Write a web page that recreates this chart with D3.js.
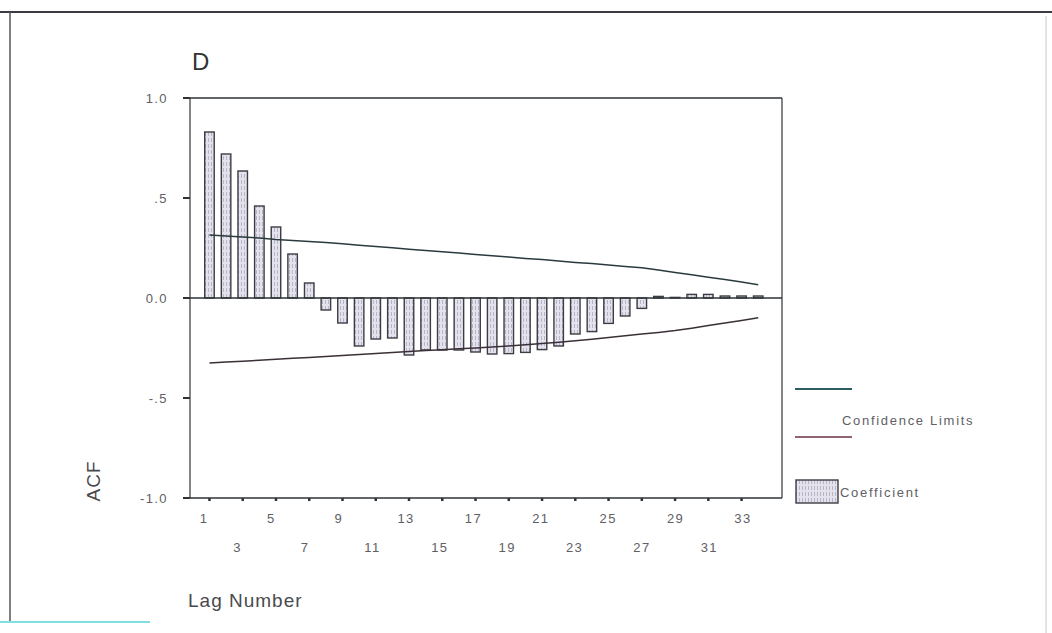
<!DOCTYPE html>
<html>
<head>
<meta charset="utf-8">
<script src="https://cdn.jsdelivr.net/npm/d3@7"></script>
<style>
  html, body { margin: 0; padding: 0; background: #fff; }
  svg { display: block; font-family: "Liberation Sans", Arial, sans-serif; }
</style>
</head>
<body>
<svg id="chart" width="1052" height="633"></svg>
<script>
// Autocorrelation function, lags 1..34
const lags = [1, 2, 3, 4, 5, 6, 7, 8, 9, 10, 11, 12, 13, 14, 15, 16, 17,
              18, 19, 20, 21, 22, 23, 24, 25, 26, 27, 28, 29, 30, 31, 32, 33, 34];
const acf = [0.83, 0.72, 0.635, 0.46, 0.355, 0.22, 0.075, -0.06, -0.125, -0.24,
             -0.205, -0.2, -0.285, -0.26, -0.26, -0.26, -0.27, -0.28, -0.278, -0.272,
             -0.258, -0.24, -0.18, -0.168, -0.127, -0.09, -0.052, 0.008, 0.003, 0.018,
             0.018, 0.01, 0.01, 0.01];
const upperLimit = [0.315, 0.31, 0.305, 0.30, 0.293, 0.288, 0.283, 0.277, 0.271, 0.264,
                    0.258, 0.251, 0.244, 0.238, 0.231, 0.225, 0.218, 0.211, 0.205, 0.198,
                    0.192, 0.185, 0.178, 0.172, 0.165, 0.158, 0.151, 0.140, 0.128, 0.116,
                    0.104, 0.092, 0.080, 0.066];
const lowerLimit = [-0.325, -0.32, -0.316, -0.311, -0.306, -0.301, -0.297, -0.292, -0.287, -0.282,
                    -0.278, -0.273, -0.268, -0.263, -0.259, -0.254, -0.25, -0.245, -0.24, -0.234,
                    -0.228, -0.221, -0.214, -0.206, -0.197, -0.189, -0.18, -0.172, -0.163, -0.151,
                    -0.138, -0.125, -0.112, -0.099];

const yTicks = [1, 0.5, 0, -0.5, -1];
const yTickLabels = ["1.0", ".5", "0.0", "-.5", "-1.0"];
const xLabelsRow1 = [1, 5, 9, 13, 17, 21, 25, 29, 33];
const xLabelsRow2 = [3, 7, 11, 15, 19, 23, 27, 31];
const xTickLags = [1, 3, 5, 7, 9, 11, 13, 15, 17, 19, 21, 23, 25, 27, 29, 31, 33];

const svg = d3.select("#chart");
const ink = "#2f3336";
const textInk = "#606064";

const x = d3.scaleLinear().domain([-0.17, 35.43]).range([190, 782]);
const xLabel = d3.scaleLinear().domain([1, 33]).range([204, 743]);
const y = d3.scaleLinear().domain([-1, 1]).range([498, 98]);

// bar fill texture
const defs = svg.append("defs");
const pat = defs.append("pattern").attr("id", "stripes")
  .attr("patternUnits", "userSpaceOnUse").attr("width", 3).attr("height", 6);
pat.append("rect").attr("width", 3).attr("height", 6).attr("fill", "#e4e2ec");
pat.append("rect").attr("x", 1).attr("width", 1).attr("height", 4).attr("fill", "#b8b6c6");

// page frame
svg.append("line").attr("x1", 0).attr("x2", 1052).attr("y1", 12).attr("y2", 12)
  .attr("stroke", "#3a3a40").attr("stroke-width", 2);
svg.append("line").attr("x1", 10).attr("x2", 10).attr("y1", 12).attr("y2", 622)
  .attr("stroke", "#55555a").attr("stroke-width", 1.5);
svg.append("line").attr("x1", 1046).attr("x2", 1046).attr("y1", 16).attr("y2", 633)
  .attr("stroke", "#c8c8cc").attr("stroke-width", 1);
svg.append("line").attr("x1", 0).attr("x2", 150).attr("y1", 622).attr("y2", 622)
  .attr("stroke", "#7fe0e4").attr("stroke-width", 2);

// panel letter
svg.append("text").attr("x", 192).attr("y", 70).attr("font-size", 24)
  .attr("fill", "#333").text("D");

// plot frame
svg.append("line").attr("x1", 183).attr("x2", 782).attr("y1", y(1)).attr("y2", y(1))
  .attr("stroke", ink).attr("stroke-width", 1.5);
svg.append("line").attr("x1", 782).attr("x2", 782).attr("y1", y(1)).attr("y2", y(-1))
  .attr("stroke", ink).attr("stroke-width", 1.2);
svg.append("line").attr("x1", 183).attr("x2", 782).attr("y1", y(-1)).attr("y2", y(-1))
  .attr("stroke", ink).attr("stroke-width", 1.5);
svg.append("line").attr("x1", 190).attr("x2", 190).attr("y1", y(1)).attr("y2", y(-1))
  .attr("stroke", ink).attr("stroke-width", 1.2);

// y ticks and labels
svg.selectAll(".ytick").data(yTicks).join("line")
  .attr("x1", 183).attr("x2", 190).attr("y1", d => y(d)).attr("y2", d => y(d))
  .attr("stroke", ink).attr("stroke-width", 2);
svg.selectAll(".ylab").data(yTicks).join("text")
  .attr("x", 168).attr("y", d => y(d) + 5).attr("text-anchor", "end")
  .attr("font-size", 13).attr("letter-spacing", 1.4).attr("fill", textInk)
  .text((d, i) => yTickLabels[i]);

// bars
const bw = 9.5;
svg.selectAll(".bar").data(lags).join("rect")
  .attr("x", d => x(d) - bw / 2)
  .attr("y", (d, i) => Math.min(y(acf[i]), y(0)))
  .attr("width", bw)
  .attr("height", (d, i) => Math.abs(y(acf[i]) - y(0)))
  .attr("fill", "url(#stripes)").attr("stroke", "#3c3c44").attr("stroke-width", 1.4);

// zero line
svg.append("line").attr("x1", 183).attr("x2", 782).attr("y1", y(0)).attr("y2", y(0))
  .attr("stroke", ink).attr("stroke-width", 1.5);

// confidence limits
const line = d3.line().x((d, i) => x(lags[i])).y(d => y(d));
svg.append("path").attr("d", line(upperLimit)).attr("fill", "none")
  .attr("stroke", "#2a3a3e").attr("stroke-width", 1.5);
svg.append("path").attr("d", line(lowerLimit)).attr("fill", "none")
  .attr("stroke", "#3a3038").attr("stroke-width", 1.5);

// x ticks and labels
svg.selectAll(".xtick").data(xTickLags).join("line")
  .attr("x1", d => x(d)).attr("x2", d => x(d)).attr("y1", y(-1)).attr("y2", y(-1) + 3)
  .attr("stroke", ink).attr("stroke-width", 2.5);
svg.selectAll(".xlab1").data(xLabelsRow1).join("text")
  .attr("x", d => xLabel(d)).attr("y", 523).attr("text-anchor", "middle")
  .attr("font-size", 13).attr("letter-spacing", 1.4).attr("fill", textInk).text(d => d);
svg.selectAll(".xlab2").data(xLabelsRow2).join("text")
  .attr("x", d => xLabel(d)).attr("y", 552).attr("text-anchor", "middle")
  .attr("font-size", 13).attr("letter-spacing", 1.4).attr("fill", textInk).text(d => d);

// axis titles
svg.append("text").attr("x", 188).attr("y", 607).attr("font-size", 19)
  .attr("letter-spacing", 1).attr("fill", "#4a4a4e").text("Lag Number");
svg.append("text").attr("transform", "translate(100,481) rotate(-90)")
  .attr("text-anchor", "middle").attr("font-size", 19).attr("letter-spacing", 1)
  .attr("fill", "#4a4a4e").text("ACF");

// legend
svg.append("line").attr("x1", 795).attr("x2", 852).attr("y1", 389).attr("y2", 389)
  .attr("stroke", "#2c5d63").attr("stroke-width", 2);
svg.append("line").attr("x1", 795).attr("x2", 852).attr("y1", 437).attr("y2", 437)
  .attr("stroke", "#8f6475").attr("stroke-width", 2);
svg.append("text").attr("x", 842).attr("y", 425).attr("font-size", 13)
  .attr("letter-spacing", 1.7).attr("fill", textInk).text("Confidence Limits");
svg.append("rect").attr("x", 796).attr("y", 480).attr("width", 42).attr("height", 23)
  .attr("fill", "url(#stripes)").attr("stroke", "#3c3c44").attr("stroke-width", 1.4);
svg.append("text").attr("x", 840).attr("y", 497).attr("font-size", 13)
  .attr("letter-spacing", 1.7).attr("fill", textInk).text("Coefficient");
</script>
</body>
</html>
